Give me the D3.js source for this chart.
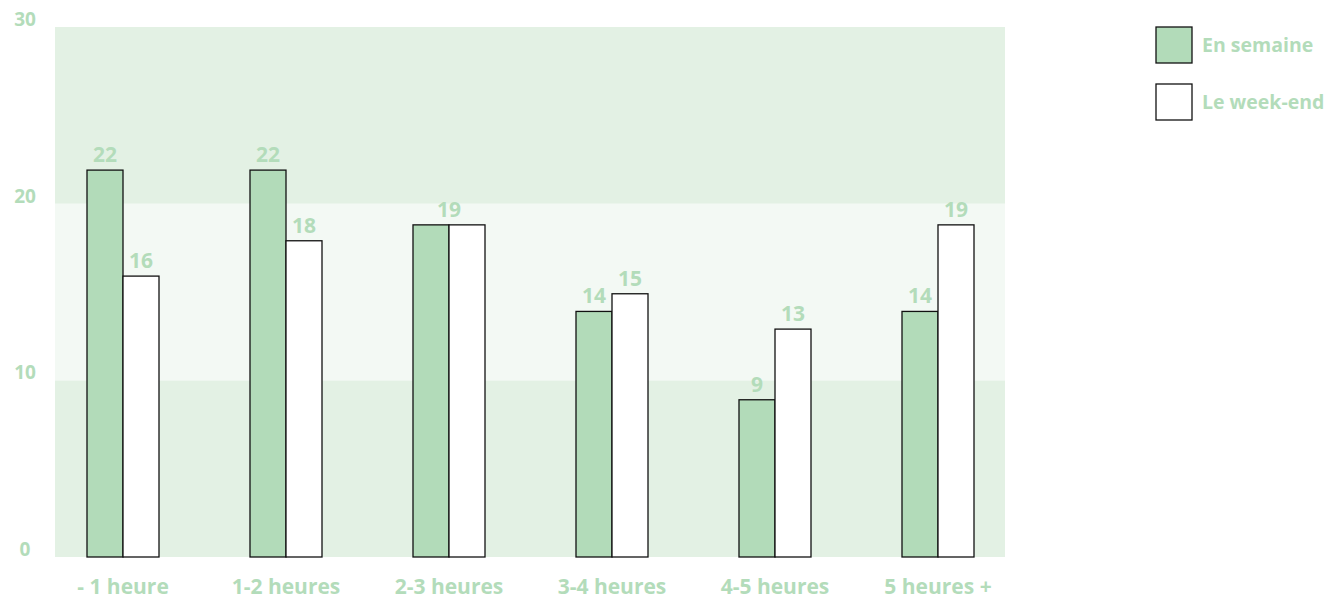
<!DOCTYPE html>
<html><head><meta charset="utf-8">
<script src="https://cdn.jsdelivr.net/npm/d3@7"></script>
<style>body{margin:0;background:#fff}svg{display:block}text{font-family:"Open Sans",sans-serif;font-weight:700;fill:#b3dcba}</style>
</head><body><svg id="c" width="1330" height="600"></svg>
<script>
const categories = ["- 1 heure","1-2 heures","2-3 heures","3-4 heures","4-5 heures","5 heures +"];
const series = ["En semaine","Le week-end"];
const enSemaine = [21.9,21.9,18.8,13.9,8.9,13.9];
const weekEnd = [15.9,17.9,18.8,14.9,12.9,18.8];
const yTicks = [0,10,20,30];
const bands = [[0,10],[10,20],[20,30]];
const bandColors = ["#e3f1e4","#f3f9f4","#e3f1e4"];
const seriesColors = ["#b2dbb9","#ffffff"];

const fmt = d3.format(".0f");
const svg = d3.select("#c");
const y = d3.scaleLinear().domain([0,30]).range([557,27]);
const plotX = [55,1005];
const x0 = d3.scaleBand().domain(categories).range([41.5,1019.5]).paddingInner(0).paddingOuter(0);
const x1 = d3.scaleBand().domain(series).range([x0.bandwidth()/2-36, x0.bandwidth()/2+36]);

svg.selectAll("rect.bg").data(bands).join("rect")
  .attr("x",plotX[0]).attr("width",plotX[1]-plotX[0])
  .attr("y",d=>y(d[1])).attr("height",d=>y(d[0])-y(d[1]))
  .attr("fill",(d,i)=>bandColors[i]);

svg.append("g").selectAll("text").data(yTicks).join("text")
  .attr("x",25).attr("y",d=>y(d)-1).attr("text-anchor","middle")
  .style("font-size","19px").text(d=>d);

const data = categories.map((c,i)=>({cat:c, vals:[{s:series[0],v:enSemaine[i]},{s:series[1],v:weekEnd[i]}]}));
const g = svg.selectAll("g.grp").data(data).join("g").attr("transform",d=>`translate(${x0(d.cat)},0)`);
g.selectAll("rect").data(d=>d.vals).join("rect")
  .attr("x",d=>x1(d.s)).attr("width",x1.bandwidth())
  .attr("y",d=>y(d.v)).attr("height",d=>y(0)-y(d.v))
  .attr("fill",(d,i)=>seriesColors[i]).attr("stroke","#111").attr("stroke-width",1.3);
g.selectAll("text").data(d=>{
    const a=d.vals;
    if (fmt(a[0].v)===fmt(a[1].v)) return [{x:x0.bandwidth()/2, v:Math.max(a[0].v,a[1].v)}];
    return a.map(e=>({x:x1(e.s)+x1.bandwidth()/2, v:e.v}));
  }).join("text")
  .attr("x",d=>d.x).attr("y",d=>y(d.v)-8)
  .attr("text-anchor","middle").style("font-size","21px").text(d=>fmt(d.v));

svg.selectAll("text.xl").data(categories).join("text").attr("class","xl")
  .attr("x",d=>x0(d)+x0.bandwidth()/2).attr("y",594).attr("text-anchor","middle")
  .style("font-size","21px").text(d=>d);

const leg = svg.selectAll("g.leg").data(series).join("g").attr("class","leg")
  .attr("transform",(d,i)=>`translate(1156,${27+i*57})`);
leg.append("rect").attr("width",36).attr("height",36).attr("fill",(d,i)=>seriesColors[i])
  .attr("stroke","#111").attr("stroke-width",1.3);
leg.append("text").attr("x",46).attr("y",25).style("font-size","19.5px").text(d=>d);
</script></body></html>
